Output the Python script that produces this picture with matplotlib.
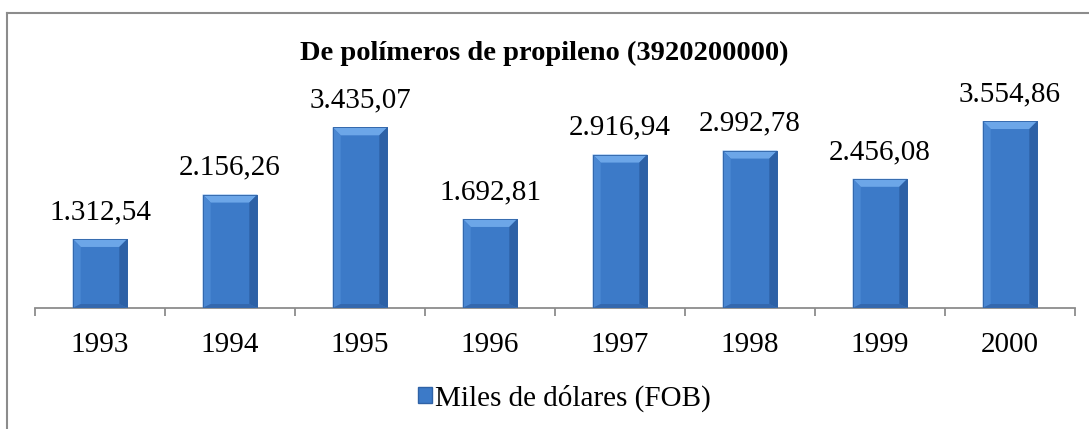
import matplotlib
matplotlib.use('Agg')
import matplotlib.pyplot as plt
from matplotlib.patches import Polygon, Patch
from matplotlib.lines import Line2D

# datos
anios = ['1993', '1994', '1995', '1996', '1997', '1998', '1999', '2000']
valores = [1312.54, 2156.26, 3435.07, 1692.81, 2916.94, 2992.78, 2456.08, 3554.86]
etiquetas = ['1.312,54', '2.156,26', '3.435,07', '1.692,81',
             '2.916,94', '2.992,78', '2.456,08', '3.554,86']
titulo = 'De polímeros de propileno (3920200000)'
serie = 'Miles de dólares (FOB)'

plt.rcParams['font.family'] = ['Liberation Serif', 'DejaVu Serif']

fig = plt.figure(figsize=(10.89, 4.29), dpi=100)
ax = fig.add_axes([35 / 1089, 1 - 308 / 429, 1040 / 1089, 210.4 / 429])

azul = '#3C7AC8'
ancho = 0.42
x = list(range(len(anios)))
barras = ax.bar(x, valores, width=ancho, color=azul, edgecolor='#2F62A6',
                linewidth=0.6, zorder=2)

ax.set_xlim(-0.5, len(anios) - 0.5)
ax.set_ylim(0, 4000)

# bisel al estilo Excel (tamano en pixeles pasado a datos)
fig.canvas.draw()
px_x = (ax.get_xlim()[1] - ax.get_xlim()[0]) / ax.bbox.width
px_y = (ax.get_ylim()[1] - ax.get_ylim()[0]) / ax.bbox.height
b = 8
for rect in barras:
    x0 = rect.get_x()
    x1 = x0 + rect.get_width()
    h = rect.get_height()
    bx, by = b * px_x, b * px_y
    arriba = [(x0, h), (x1, h), (x1 - bx, h - by), (x0 + bx, h - by)]
    izq = [(x0, 0), (x0, h), (x0 + bx, h - by), (x0 + bx, by * 0.5)]
    der = [(x1, 0), (x1, h), (x1 - bx, h - by), (x1 - bx, by * 0.5)]
    abajo = [(x0, 0), (x1, 0), (x1 - bx, by * 0.5), (x0 + bx, by * 0.5)]
    ax.add_patch(Polygon(arriba, closed=True, color='#6CA6E8', lw=0, zorder=3))
    ax.add_patch(Polygon(izq, closed=True, color='#4A87D2', lw=0, zorder=3))
    ax.add_patch(Polygon(der, closed=True, color='#2D61A6', lw=0, zorder=3))
    ax.add_patch(Polygon(abajo, closed=True, color='#3468AE', lw=0, zorder=3))
    ax.add_patch(Polygon([(x0, 0), (x0, h), (x1, h), (x1, 0)], closed=True,
                         fill=False, edgecolor='#2F62A6', lw=0.6, zorder=4))

for xi, v, t in zip(x, valores, etiquetas):
    ax.annotate(t, (xi, v), xytext=(0, 10), textcoords='offset points',
                ha='center', va='bottom', fontsize=21)

for s in ['top', 'right', 'left']:
    ax.spines[s].set_visible(False)
ax.spines['bottom'].set_color('#8C8C8C')
ax.spines['bottom'].set_linewidth(1.3)
ax.set_yticks([])
ax.set_xticks(x)
ax.set_xticklabels(anios, fontsize=21)
ax.set_xticks([i - 0.5 for i in range(len(anios) + 1)], minor=True)
ax.tick_params(axis='x', which='major', length=0, pad=17)
ax.tick_params(axis='x', which='minor', length=6, width=1.3, color='#8C8C8C')

fig.text(0.5, 1 - 53 / 429, titulo, ha='center', va='center',
         fontsize=20.5, fontweight='bold')

fig.legend(handles=[Patch(facecolor=azul, edgecolor='#2F62A6', label=serie)],
           loc='center', bbox_to_anchor=(0.5 + 20 / 1089, 1 - 398 / 429),
           frameon=False, fontsize=21, handlelength=0.5, handleheight=0.5,
           handletextpad=0.1, borderpad=0, borderaxespad=0)

# borde del grafico
fig.add_artist(Line2D([7 / 1089, 1], [1 - 13 / 429, 1 - 13 / 429],
                      transform=fig.transFigure, color='#8C8C8C', lw=1.5))
fig.add_artist(Line2D([7 / 1089, 7 / 1089], [0, 1 - 13 / 429],
                      transform=fig.transFigure, color='#8C8C8C', lw=1.5))

fig.savefig('out.png', dpi=100)
